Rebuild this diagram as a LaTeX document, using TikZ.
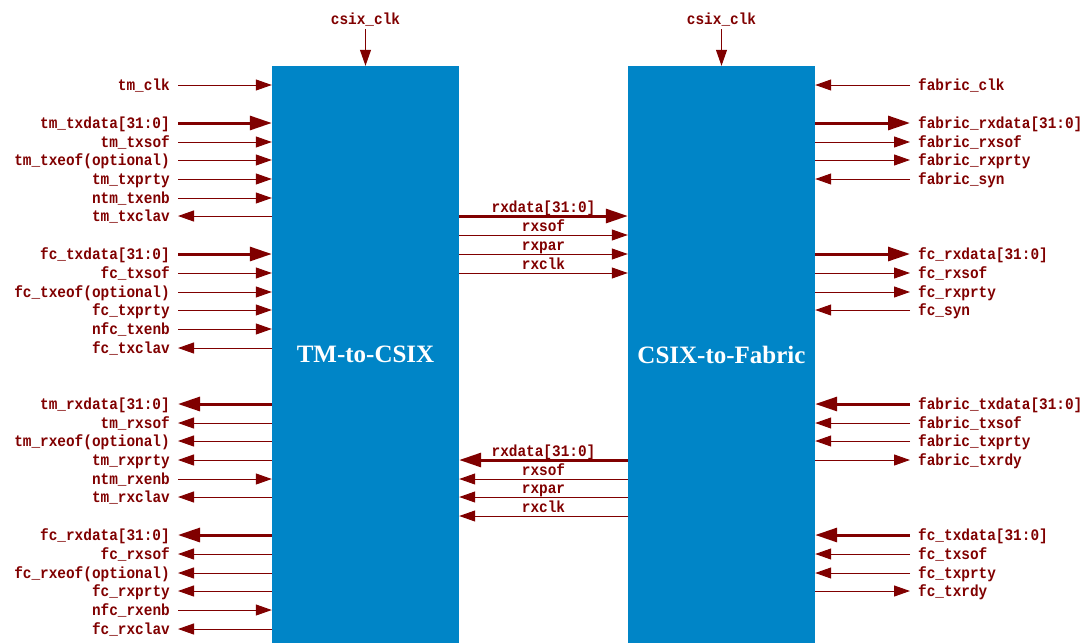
\documentclass[tikz,border=0pt]{standalone}
\usepackage{fontspec}
\setmainfont{Liberation Serif}
\newfontfamily\sigfont{Liberation Mono}[FakeStretch=0.9]
\usetikzlibrary{arrows.meta,positioning}
\definecolor{sigred}{RGB}{128,0,0}
\definecolor{blkblue}{RGB}{0,133,199}
\tikzset{
  blk/.style={fill=blkblue, minimum width=187pt, minimum height=577pt, inner sep=0pt,
    text=white, font=\fontsize{25}{25}\selectfont\bfseries},
  sig/.style={text=sigred, inner sep=0pt, font=\fontsize{16}{16}\selectfont\sigfont\bfseries},
  lin/.style={draw=sigred, line width=1pt, -{Triangle[length=16pt,width=11pt]}},
  lout/.style={draw=sigred, line width=1pt, {Triangle[length=16pt,width=11pt]}-},
  bin/.style={draw=sigred, line width=3pt, -{Triangle[length=22pt,width=14pt]}},
  bout/.style={draw=sigred, line width=3pt, {Triangle[length=22pt,width=14pt]}-},
}
\begin{document}
\begin{tikzpicture}[x=1pt,y=-1pt]
\useasboundingbox (0,0) rectangle (1087,643);
\node[blk] (tm) at (365.5,354.5) {TM-to-CSIX};
\node[blk] (cx) at (721.5,354.5) {CSIX-to-Fabric};
% clocks on top
\foreach \b/\n in {tm/ck1,cx/ck2}{
  \node[sig, anchor=base] (\n) at (\b.north |- 0,24) {csix\_clk};
  \draw[lin] ([yshift=-5pt]\n.base) -- (\b.north);
}
% tm side
\foreach \y/\n/\t/\s in {85/l1/tm\_clk/lin, 123/l2/{tm\_txdata[31:0]}/bin,
  142/l3/tm\_txsof/lin, 160/l4/{tm\_txeof(optional)}/lin, 179/l5/tm\_txprty/lin,
  198/l6/ntm\_txenb/lin, 216/l7/tm\_txclav/lout,
  254/l8/{fc\_txdata[31:0]}/bin, 273/l9/fc\_txsof/lin, 292/l10/{fc\_txeof(optional)}/lin,
  310/l11/fc\_txprty/lin, 329/l12/nfc\_txenb/lin, 348/l13/fc\_txclav/lout,
  404/l14/{tm\_rxdata[31:0]}/bout, 423/l15/tm\_rxsof/lout, 441/l16/{tm\_rxeof(optional)}/lout,
  460/l17/tm\_rxprty/lout, 479/l18/ntm\_rxenb/lin, 497/l19/tm\_rxclav/lout,
  535/l20/{fc\_rxdata[31:0]}/bout, 554/l21/fc\_rxsof/lout, 573/l22/{fc\_rxeof(optional)}/lout,
  591/l23/fc\_rxprty/lout, 610/l24/nfc\_rxenb/lin, 629/l25/fc\_rxclav/lout}{
  \node[sig, anchor=base east] (\n) at (170,\y+5) {\t};
  \coordinate (\n a) at ([shift={(8pt,5pt)}]\n.base east);
  \draw[\s] (\n a) -- (tm.west |- \n a);
}
% fabric side
\foreach \y/\n/\t/\s in {85/r1/fabric\_clk/lin, 123/r2/{fabric\_rxdata[31:0]}/bout,
  142/r3/fabric\_rxsof/lout, 160/r4/fabric\_rxprty/lout, 179/r5/fabric\_syn/lin,
  254/r6/{fc\_rxdata[31:0]}/bout, 273/r7/fc\_rxsof/lout, 292/r8/fc\_rxprty/lout, 310/r9/fc\_syn/lin,
  404/r10/{fabric\_txdata[31:0]}/bin, 423/r11/fabric\_txsof/lin, 441/r12/fabric\_txprty/lin,
  460/r13/fabric\_txrdy/lout,
  535/r14/{fc\_txdata[31:0]}/bin, 554/r15/fc\_txsof/lin, 573/r16/fc\_txprty/lin, 591/r17/fc\_txrdy/lout}{
  \node[sig, anchor=base west] (\n) at (918,\y+5) {\t};
  \coordinate (\n a) at ([shift={(-8pt,5pt)}]\n.base west);
  \draw[\s] (\n a) -- (cx.east |- \n a);
}
% between the blocks
\foreach \y/\n/\t/\s in {216/m1/{rxdata[31:0]}/bin, 235/m2/rxsof/lin, 254/m3/rxpar/lin, 273/m4/rxclk/lin,
  460/m5/{rxdata[31:0]}/bout, 479/m6/rxsof/lout, 497/m7/rxpar/lout, 516/m8/rxclk/lout}{
  \coordinate (\n a) at (tm.east |- 0,\y);
  \draw[\s] (\n a) -- (cx.west |- \n a);
  \node[sig, anchor=base] (\n) at (543.5,\y-4) {\t};
}
\end{tikzpicture}
\end{document}
